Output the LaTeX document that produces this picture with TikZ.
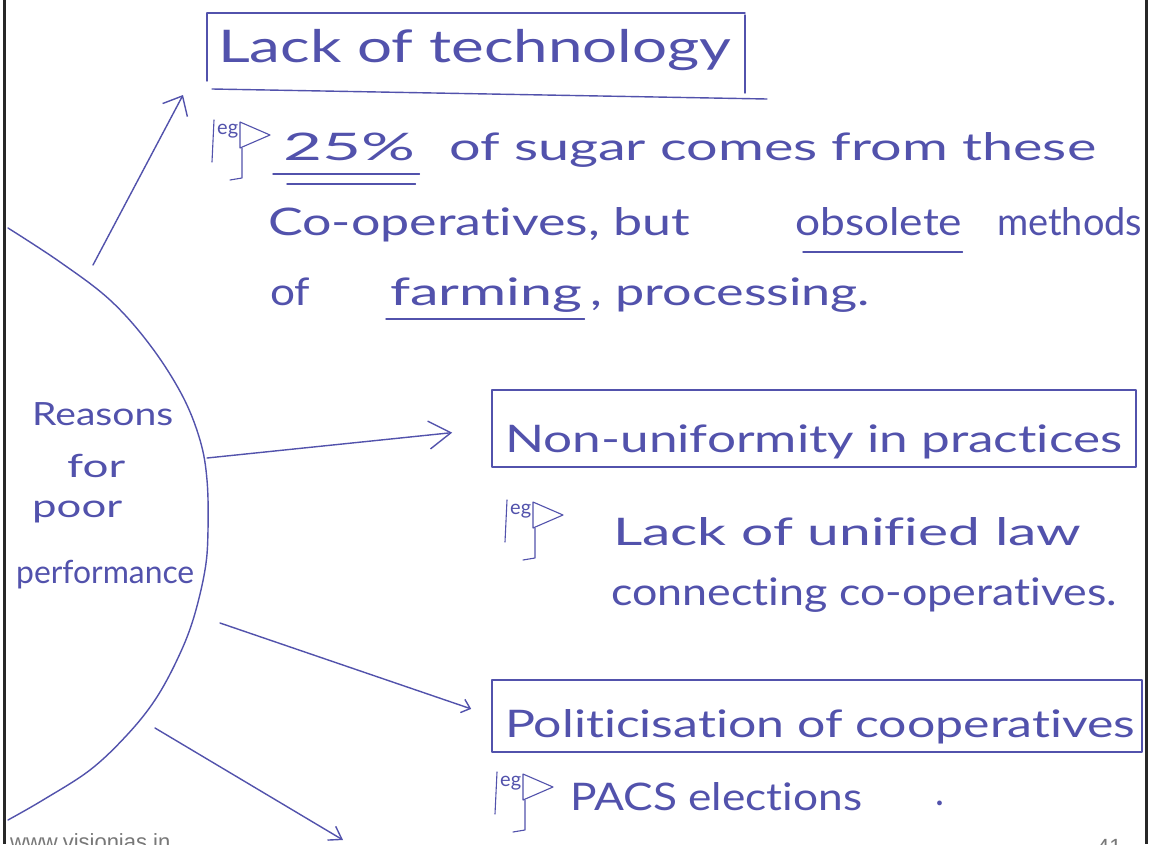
\documentclass[tikz,border=0pt]{standalone}
\usepackage{fontspec}
\setmainfont{Lato}[Ligatures={NoCommon,NoRare}]
\newfontfamily\footfont{Liberation Sans}
\usepackage{graphicx}
\usetikzlibrary{arrows.meta,calc}

\definecolor{ink}{RGB}{82,82,172}
\definecolor{pagerule}{RGB}{40,40,40}
\definecolor{footgray}{RGB}{120,120,120}

% stretch a piece of handwriting to a given width, keeping its height
\newcommand\fitw[2]{\resizebox{#1}{\height}{#2}}

\tikzset{
  egmark/.pic={
    \node[egtext, anchor=north west] (-t) at (5,4) {eg};
    \draw[pen, line width=1.1pt] (2,0) -- (0,42);
    \draw[pen, line width=1.1pt] (28,2) -- (58,15) -- (28,28) -- cycle;
    \draw[pen, line width=1.1pt] (30,28) -- (30,58) -- (18,60);
  }
}

\begin{document}
\begin{tikzpicture}[x=1pt,y=-1pt,
  hand/.style={inner sep=0pt, anchor=base west, text=ink, font=\fontsize{38}{40}\selectfont},
  title/.style={hand, font=\fontsize{45}{47}\selectfont},
  topic/.style={inner sep=0pt, anchor=base west, text=ink, font=\fontsize{32}{34}\selectfont},
  egtext/.style={inner sep=0pt, text=ink, font=\fontsize{20}{22}\selectfont},
  pen/.style={draw=ink, line width=1.4pt, line cap=round, line join=round},
  boxarea/.style={inner sep=0pt, outer sep=0pt, anchor=north west},
  headA/.style={-{Straight Barb[length=16pt,width=28pt]}},
  headB/.style={-{Straight Barb[length=22pt,width=28pt]}},
  headC/.style={-{Straight Barb[length=8pt,width=14pt]}},
  headD/.style={-{Straight Barb[length=12pt,width=16pt]}},
  footer/.style={inner sep=0pt, anchor=base west, text=footgray, font=\footfont\fontsize{22}{24}\selectfont}
]
\useasboundingbox (0,0) rectangle (1152,844);
\fill[white] (0,0) rectangle (1152,844);

% page rules
\draw[pagerule, line width=3pt] (4,0) -- (4,844);
\draw[pagerule, line width=3pt] (1146,0) -- (1146,844);

% central arc
\draw[pen] plot[smooth, tension=0.6] coordinates {(8,228) (60,262) (110,300) (150,345) (182,395) (200,440) (207,480) (208,530) (205,570) (193,620) (177,660) (155,700) (127,735) (90,770) (43,800) (8,820)};

% centre label
\node[topic] (r1) at (32,425) {\fitw{141pt}{Reasons}};
\node[topic] (r2) at (67,477) {\fitw{58pt}{for}};
\node[topic] (r3) at (32,517) {\fitw{90pt}{poor}};
\node[topic] (r4) at (16,583) {\fitw{178pt}{performance}};

% branch 1: lack of technology
\node[boxarea, minimum width=538pt, minimum height=80pt] (box1) at (207,13) {};
\draw[pen] (box1.north west) -- (box1.north east);
\draw[pen] (box1.north west) -- ($(box1.south west)+(0,-12)$);
\draw[pen] ($(box1.north east)+(0,2)$) -- (box1.south east);
\draw[pen] ($(box1.south west)+(5,-4)$) -- ($(box1.south east)+(22,6)$);
\node[title] (b1t) at (218,62) {\fitw{513pt}{Lack of technology}};

\coordinate (a1) at (93,265);
\coordinate (a1tip) at ($(box1.south west)+(-24,2)$);
\draw[pen, headA] (a1) -- (a1tip);

\pic (eg1) at (212,120) {egmark};
\node[hand] (pct) at (283,160) {\fitw{132pt}{25\%}};
\draw[pen] ($(pct.base west)+(-10,14)$) -- ($(pct.base east)+(4,14)$);
\draw[pen] ($(pct.base west)+(4,24)$) -- ($(pct.base east)+(0,24)$);
\node[hand] (l1) at (449,160) {\fitw{647pt}{of sugar comes from these}};

\node[hand] (l2a) at (268,235) {\fitw{422pt}{Co-operatives, but}};
\node[hand] (l2b) at (795,235) {\fitw{167pt}{obsolete}};
\draw[pen] ($(l2b.base west)+(8,17)$) -- ($(l2b.base east)+(0,17)$);
\node[hand] (l2c) at (997,235) {\fitw{145pt}{methods}};

\node[hand] (l3a) at (270,305) {\fitw{40pt}{of}};
\node[hand] (l3b) at (390,305) {\fitw{192pt}{farming}};
\draw[pen] ($(l3b.base west)+(-4,14)$) -- ($(l3b.base east)+(2,14)$);
\node[hand] (l3c) at (590,305) {\fitw{280pt}{, processing.}};

% branch 2: non-uniformity
\node[boxarea, minimum width=644pt, minimum height=77pt] (box2) at (492,390) {};
\draw[pen] (box2.north west) rectangle (box2.south east);
\node[hand] (b2t) at (505,452) {\fitw{617pt}{Non-uniformity in practices}};
\coordinate (a2) at (207,458);
\draw[pen, headB, shorten >=40pt] (a2) -- (box2.west);

\pic (eg2) at (505,500) {egmark};
\node[hand] (l4) at (613,545) {\fitw{468pt}{Lack of unified law}};
\node[hand] (l5) at (611,605) {\fitw{506pt}{connecting co-operatives.}};

% branch 3: politicisation
\node[boxarea, minimum width=650pt, minimum height=72pt] (box3) at (492,680) {};
\draw[pen] (box3.north west) rectangle (box3.south east);
\node[hand] (b3t) at (505,737) {\fitw{630pt}{Politicisation of cooperatives}};
\coordinate (a3) at (220,623);
\draw[pen, headC, shorten >=22pt] (a3) -- (box3.west);

\pic (eg3) at (495,772) {egmark};
\node[hand] (l6) at (570,810) {\fitw{292pt}{PACS elections}};
\node[hand] (l6dot) at (935,805) {.};

% branch 4: continues below
\coordinate (a4) at (155,728);
\coordinate (a4end) at (343,840);
\draw[pen, headD] (a4) -- (a4end);

% footer
\node[footer] (site) at (10,849) {www.visionias.in};
\node[footer] (pageno) at (1097,854) {41};
\end{tikzpicture}
\end{document}
